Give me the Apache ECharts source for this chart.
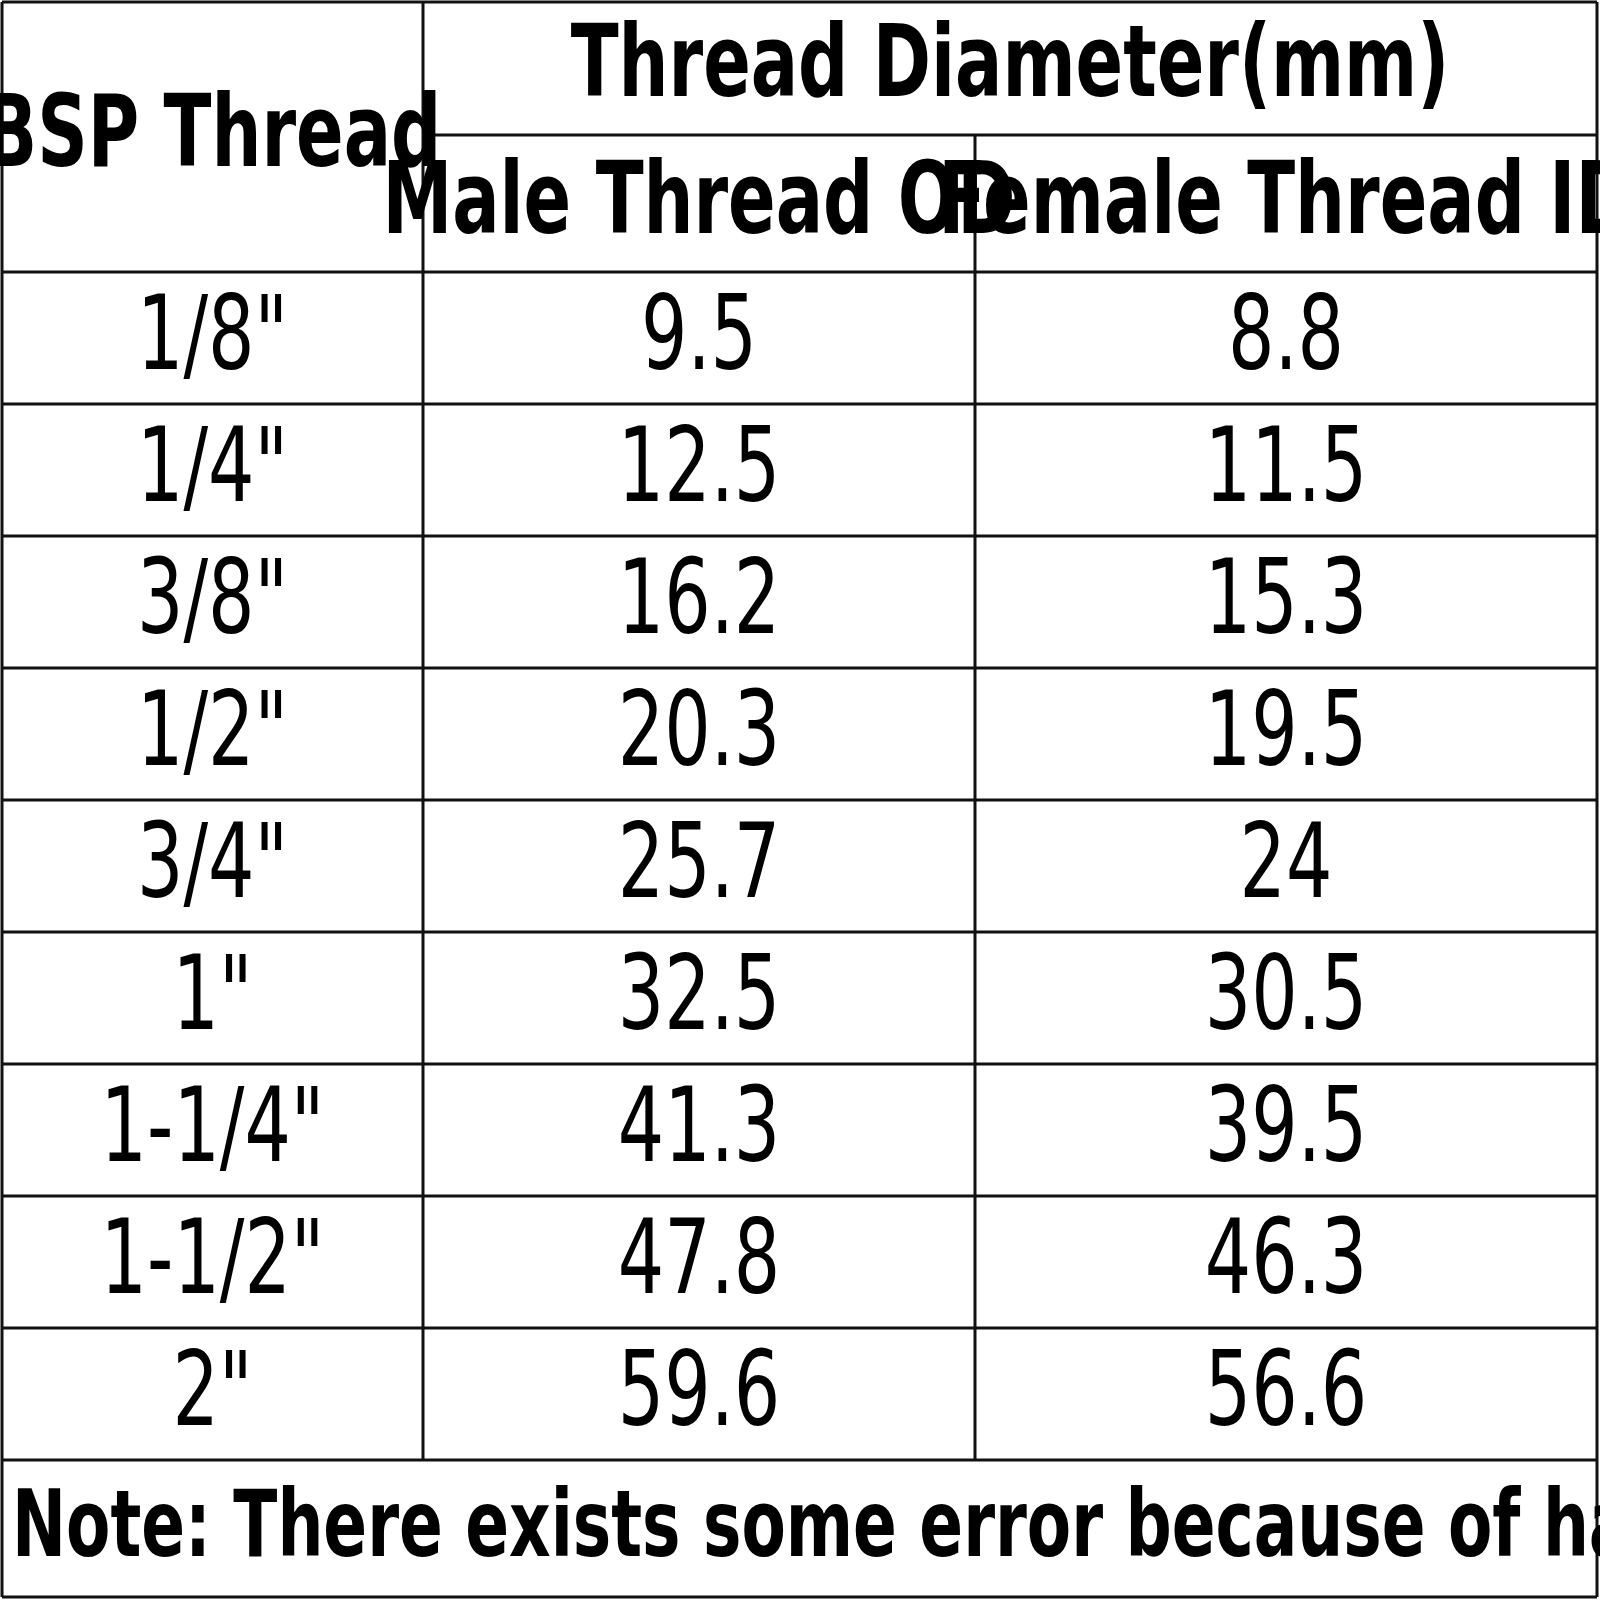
<!DOCTYPE html><html><head><meta charset="utf-8">
<script src="https://cdn.jsdelivr.net/npm/echarts@6/dist/echarts.min.js"></script>
<style>html,body{margin:0;padding:0;background:#fff}#c{width:1600px;height:1600px}</style></head><body><div id="c"></div>
<script>
const categories=['1/8"','1/4"','3/8"','1/2"','3/4"','1"','1-1/4"','1-1/2"','2"'];
const maleOD=['9.5','12.5','16.2','20.3','25.7','32.5','41.3','47.8','59.6'];
const femaleID=['8.8','11.5','15.3','19.5','24','30.5','39.5','46.3','56.6'];
const headers={first:'BSP Thread',group:'Thread Diameter(mm)',male:'Male Thread OD',female:'Female Thread ID'};
const note='Note: There exists some error because of hand measuring.';

const colX=[2,423,975,1597];
const tTop=2,headSplit=135,headBot=272,rowH=132,noteBot=1597;
const FONT='"Liberation Sans Narrow","DejaVu Sans Condensed",sans-serif';
const SX=0.78;
const els=[];
function line(x1,y1,x2,y2){els.push({type:'line',shape:{x1,y1,x2,y2},style:{stroke:'#111',lineWidth:3}});}
function text(t,x,y,size,bold,align){els.push({type:'text',x,y,scaleX:SX,style:{text:t,x:0,y:0,fontSize:size,fontWeight:bold?'bold':'normal',fontFamily:FONT,fill:'#000',align:align||'center',verticalAlign:'middle'}});}
const tableBot=headBot+rowH*categories.length;
line(colX[0],tTop,colX[3],tTop);
line(colX[1],headSplit,colX[3],headSplit);
line(colX[0],headBot,colX[3],headBot);
for(let i=1;i<=categories.length;i++)line(colX[0],headBot+rowH*i,colX[3],headBot+rowH*i);
line(colX[0],noteBot,colX[3],noteBot);
line(colX[0],tTop,colX[0],noteBot);line(colX[3],tTop,colX[3],noteBot);
line(colX[1],tTop,colX[1],tableBot);line(colX[2],headSplit,colX[2],tableBot);
text(headers.first,(colX[0]+colX[1])/2,140,100,true);
text(headers.group,(colX[1]+colX[3])/2,70,100,true);
text(headers.male,(colX[1]+colX[2])/2,207,100,true);
text(headers.female,(colX[2]+colX[3])/2,207,100,true);
categories.forEach((c,i)=>{const y=headBot+rowH*(i+0.5)+4;
 text(c,(colX[0]+colX[1])/2,y,104,false);
 text(maleOD[i],(colX[1]+colX[2])/2,y,104,false);
 text(femaleID[i],(colX[2]+colX[3])/2,y,104,false);});
els.push({type:'text',x:12,y:(tableBot+noteBot)/2+4,scaleX:SX,style:{text:note,fontSize:92,fontWeight:'bold',fontFamily:FONT,fill:'#000',align:'left',verticalAlign:'middle'}});
const chart=echarts.init(document.getElementById('c'));
chart.setOption({backgroundColor:'#fff',animation:false,graphic:{elements:els}});
</script></body></html>
